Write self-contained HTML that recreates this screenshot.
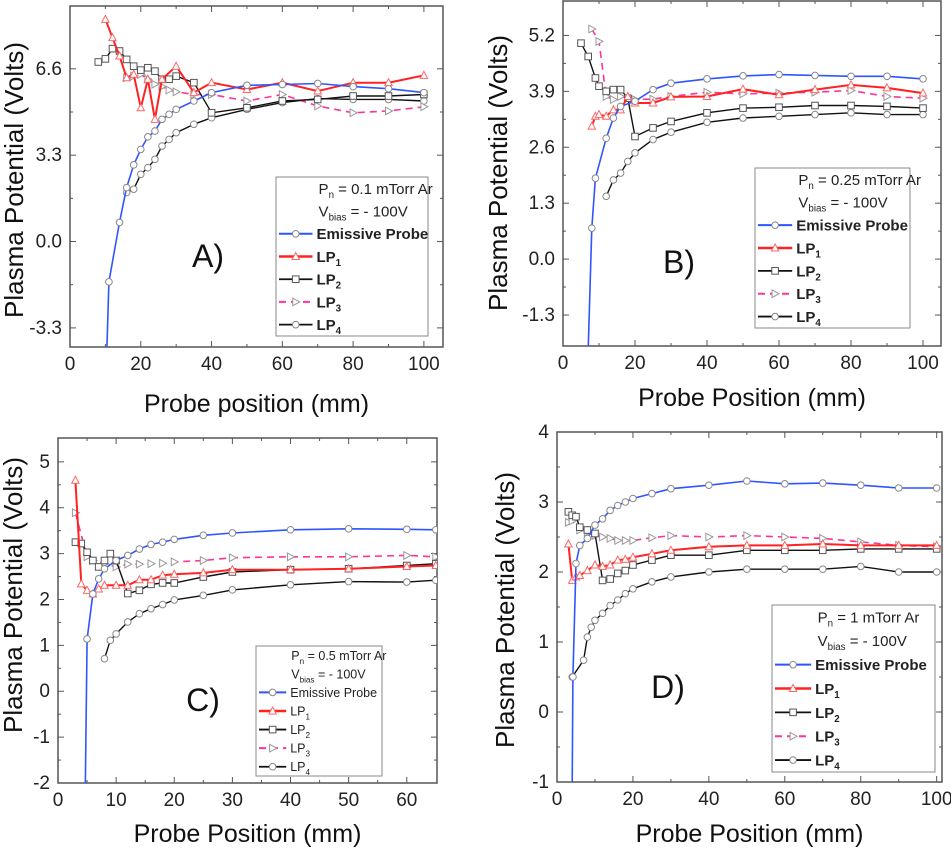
<!DOCTYPE html>
<html><head><meta charset="utf-8">
<style>
html,body{margin:0;padding:0;background:#fff;}
svg{display:block;font-family:"Liberation Sans",sans-serif;}
</style></head>
<body>
<svg id="fig" width="951" height="848" viewBox="0 0 951 848" xmlns="http://www.w3.org/2000/svg"></svg>
<script>
// ---- Panel A data (0.1 mTorr) ----
const aEmX=[10.4,11,14,16,18,20,22,24,26,28,30,35,40,50,60,70,80,90,100];
const aEmY=[-4.2,-1.54,0.73,2.06,2.93,3.52,4.0,4.22,4.67,4.86,5.05,5.37,5.69,5.97,6.0,6.04,5.92,5.84,5.69];
const aL1X=[10,12,14,16,18,20,22,24,26,30,35,40,50,60,70,80,90,100];
const aL1Y=[8.49,7.79,7.09,6.26,6.39,5.11,6.2,4.67,6.2,6.7,5.69,6.07,5.81,6.07,5.75,6.07,6.07,6.35];
const aL2X=[8,10,12,14,16,18,20,22,24,26,28,30,35,40,50,60,70,80,90,100];
const aL2Y=[6.86,6.98,7.37,7.28,6.96,6.7,6.55,6.64,6.51,6.2,6.2,6.32,6.07,4.92,5.11,5.37,5.43,5.56,5.56,5.62];
const aL3X=[16,18,20,22,24,26,28,30,35,40,50,60,70,80,90,100];
const aL3Y=[6.26,6.32,6.39,6.2,6.01,5.92,5.79,5.72,5.62,5.62,5.37,5.62,5.18,4.92,4.99,5.15];
const aL4X=[16,18,20,22,24,26,28,30,35,40,50,60,70,80,90,100];
const aL4Y=[1.87,2.0,2.57,2.82,3.14,3.65,3.9,4.16,4.48,4.73,5.05,5.31,5.46,5.43,5.43,5.37];
const aYTicks=[-3.3,0.0,3.3,6.6];
const aYTickLabels=["-3.3","0.0","3.3","6.6"];
const aXTicks=[0,20,40,60,80,100];
// ---- Panel B data (0.25 mTorr) ----
const bEmX=[7.0,8,9,12,14,16,20,25,30,40,50,60,70,80,90,100];
const bEmY=[-2.1,0.72,1.88,2.81,3.28,3.55,3.67,3.94,4.09,4.19,4.26,4.29,4.27,4.25,4.25,4.19];
const bL1X=[8,9,10,12,14,16,18,20,25,30,40,50,60,70,80,90,100];
const bL1Y=[3.09,3.32,3.36,3.32,3.47,3.47,3.78,3.63,3.63,3.77,3.78,3.95,3.82,3.94,4.05,3.98,3.86];
const bL2X=[5,7,9,10,12,14,16,18,20,25,30,40,50,60,70,80,90,100];
const bL2Y=[5.02,4.71,4.21,4.02,3.9,3.94,3.94,3.74,2.85,3.05,3.2,3.4,3.51,3.53,3.57,3.57,3.55,3.51];
const bL3X=[8,10,12,14,16,20,25,30,40,50,60,70,80,90,100];
const bL3Y=[5.35,5.06,3.78,3.71,3.78,3.71,3.72,3.78,3.88,3.84,3.86,3.88,3.92,3.78,3.74];
const bL4X=[12,14,16,18,20,25,30,40,50,60,70,80,90,100];
const bL4Y=[1.46,1.84,2.0,2.27,2.47,2.78,2.95,3.18,3.28,3.32,3.36,3.4,3.36,3.36];
const bYTicks=[-1.3,0.0,1.3,2.6,3.9,5.2];
const bYTickLabels=["-1.3","0.0","1.3","2.6","3.9","5.2"];
const bXTicks=[0,20,40,60,80,100];
// ---- Panel C data (0.5 mTorr) ----
const cEmX=[4.7,5,6,7,8,10,12,14,16,18,20,25,30,40,50,60,65];
const cEmY=[-2.1,1.14,2.12,2.45,2.67,2.85,2.96,3.1,3.2,3.25,3.31,3.4,3.45,3.52,3.54,3.53,3.52];
const cL1X=[3,4,5,6,7,8,10,12,14,16,18,20,25,30,40,50,60,65];
const cL1Y=[4.6,2.34,2.2,2.12,2.23,2.31,2.31,2.31,2.43,2.43,2.53,2.55,2.58,2.65,2.65,2.67,2.72,2.74];
const cL2X=[3,4,5,6,7,8,9,10,12,14,16,18,20,25,30,40,50,60,65];
const cL2Y=[3.25,3.22,3.03,2.85,2.71,2.85,3.0,2.85,2.13,2.2,2.33,2.36,2.36,2.49,2.6,2.65,2.67,2.74,2.78];
const cL3X=[3,5,6,8,10,12,14,16,18,20,25,30,40,50,60,65];
const cL3Y=[3.89,2.93,2.85,2.78,2.71,2.77,2.77,2.78,2.79,2.82,2.85,2.91,2.93,2.93,2.96,2.93];
const cL4X=[8,9,10,12,14,16,18,20,25,30,40,50,60,65];
const cL4Y=[0.71,1.11,1.25,1.51,1.69,1.8,1.89,1.99,2.09,2.21,2.32,2.39,2.38,2.42];
const cYTicks=[-2,-1,0,1,2,3,4,5];
const cYTickLabels=["-2","-1","0","1","2","3","4","5"];
const cXTicks=[0,10,20,30,40,50,60];
// ---- Panel D data (1 mTorr) ----
const dEmX=[4,4.2,5,6,8,10,12,14,16,18,20,25,30,40,50,60,70,80,90,100];
const dEmY=[-1.05,0.5,2.12,2.38,2.48,2.67,2.76,2.88,2.95,3.0,3.05,3.12,3.19,3.24,3.3,3.26,3.27,3.24,3.2,3.2];
const dL1X=[3,4,5,6,8,10,12,14,16,18,20,25,30,40,50,60,70,80,90,100];
const dL1Y=[2.4,1.88,1.93,1.95,2.02,2.1,2.08,2.1,2.17,2.18,2.21,2.26,2.31,2.36,2.38,2.38,2.4,2.38,2.38,2.38];
const dL2X=[3,4,5,6,8,10,12,14,16,18,20,25,30,40,50,60,70,80,90,100];
const dL2Y=[2.86,2.81,2.79,2.64,2.6,2.55,1.88,1.9,1.98,2.02,2.1,2.17,2.24,2.24,2.31,2.31,2.31,2.33,2.33,2.33];
const dL3X=[3,4,6,8,10,12,14,16,18,20,25,30,40,50,60,70,80,90,100];
const dL3Y=[2.71,2.73,2.6,2.57,2.52,2.5,2.48,2.45,2.45,2.45,2.49,2.52,2.5,2.52,2.5,2.48,2.43,2.38,2.36];
const dL4X=[4,7,8,9,10,12,14,16,18,20,25,30,40,50,60,70,80,90,100];
const dL4Y=[0.5,0.74,1.07,1.21,1.31,1.41,1.52,1.6,1.69,1.76,1.86,1.93,2.0,2.04,2.04,2.04,2.08,2.0,2.0];
const dYTicks=[-1,0,1,2,3,4];
const dYTickLabels=["-1","0","1","2","3","4"];
const dXTicks=[0,20,40,60,80,100];

const NS="http://www.w3.org/2000/svg";
const svg=document.getElementById('fig');
function mk(tag,attrs,parent){const e=document.createElementNS(NS,tag);for(const k in attrs)e.setAttribute(k,attrs[k]);(parent||svg).appendChild(e);return e;}

const STY={
 em:{c:'#2f55ff',w:1.6,dash:'',m:'circle'},
 l1:{c:'#ff2222',w:2,dash:'',m:'tri'},
 l2:{c:'#111',w:1.4,dash:'',m:'square'},
 l3:{c:'#ff3399',w:1.6,dash:'7,5',m:'tright'},
 l4:{c:'#111',w:1.4,dash:'',m:'circle'}
};
function marker(g,m,x,y){
  let e;
  if(m==='circle'){e=mk('circle',{cx:x,cy:y,r:3.3,fill:'#fff',stroke:'#888','stroke-width':1},g);}
  else if(m==='square'){e=mk('rect',{x:x-3.3,y:y-3.3,width:6.6,height:6.6,fill:'#fff',stroke:'#555','stroke-width':1},g);}
  else if(m==='tri'){e=mk('polygon',{points:`${x},${y-4} ${x-3.7},${y+3} ${x+3.7},${y+3}`,fill:'#fff',stroke:'#ff6666','stroke-width':1},g);}
  else {e=mk('polygon',{points:`${x-3},${y-3.8} ${x+4},${y} ${x-3},${y+3.8}`,fill:'#fff',stroke:'#999','stroke-width':1},g);}
  return e;
}

function panel(p){
  const g=mk('g',{});
  
  
  const sx=v=>p.L+(v-p.x0)/(p.x1-p.x0)*(p.R-p.L);
  const sy=v=>p.B-(v-p.y0)/(p.y1-p.y0)*(p.B-p.T);
  const cid='clip'+p.id;
  const cp=mk('clipPath',{id:cid},g);mk('rect',{x:p.L,y:p.T,width:p.R-p.L,height:p.B-p.T},cp);
  const frame=mk('rect',{x:p.L,y:p.T,width:p.R-p.L,height:p.B-p.T,fill:'none',stroke:'#555','stroke-width':1.5},g);
  
  
  p.yt.forEach((v,i)=>{
    const y=sy(v);
    mk('line',{x1:p.L,x2:p.L+6,y1:y,y2:y,stroke:'#555','stroke-width':1},g);
    mk('line',{x1:p.R,x2:p.R-6,y1:y,y2:y,stroke:'#555','stroke-width':1},g);
    const t=mk('text',{x:p.L-8,y:y+6,'text-anchor':'end','font-size':p.tf,fill:'#222'},g);
    t.textContent=p.ytl[i];
    
    
    if(i<p.yt.length-1){const ym=sy((v+p.yt[i+1])/2);
      mk('line',{x1:p.L,x2:p.L+3,y1:ym,y2:ym,stroke:'#555'},g);mk('line',{x1:p.R,x2:p.R-3,y1:ym,y2:ym,stroke:'#555'},g);}
  });
  p.xt.forEach((v,i)=>{
    const x=sx(v);
    mk('line',{x1:x,x2:x,y1:p.B,y2:p.B-6,stroke:'#555'},g);
    mk('line',{x1:x,x2:x,y1:p.T,y2:p.T+6,stroke:'#555'},g);
    const t=mk('text',{x:x,y:p.xly,'text-anchor':'middle','font-size':p.tf,fill:'#222'},g);
    t.textContent=String(v);
    
    
    if(i<p.xt.length-1){const xm=sx((v+p.xt[i+1])/2);
      mk('line',{x1:xm,x2:xm,y1:p.B,y2:p.B-3,stroke:'#555'},g);mk('line',{x1:xm,x2:xm,y1:p.T,y2:p.T+3,stroke:'#555'},g);}
  });
  const xt=mk('text',{x:(p.L+p.R)/2,y:p.xty,'text-anchor':'middle','font-size':25,fill:'#111'},g);
  xt.textContent=p.xtitle;
  
  
  const yt=mk('text',{x:0,y:0,'text-anchor':'middle','font-size':26,fill:'#111',transform:`translate(${p.ytx},${p.yty}) rotate(-90)`},g);
  yt.textContent='Plasma Potential (Volts)';
  
  
  const lab=mk('text',{x:p.labx,y:p.laby,'text-anchor':'middle','font-size':32,fill:'#111'},g);
  lab.textContent=p.id.toUpperCase()+')';
  
  
  const order=['l4','l3','l2','l1','em'];
  const pg=mk('g',{'clip-path':`url(#${cid})`},g);
  order.forEach(k=>{
    const s=p.series[k],st=STY[k];
    const sg=mk('g',{},pg);
    
    
    const pts=s.x.map((xv,i)=>sx(xv).toFixed(1)+','+sy(s.y[i]).toFixed(1)).join(' ');
    const pl=mk('polyline',{points:pts,fill:'none',stroke:st.c,'stroke-width':st.w,'stroke-dasharray':st.dash},sg);
    
    
    s.x.forEach((xv,i)=>{
      if(k==='em'&&i===0)return;
      const m=marker(sg,st.m,sx(xv),sy(s.y[i]));
      
      
    });
  });
  const lg=mk('g',{},g);
  
  
  const lb=p.leg;
  mk('rect',{x:lb.x,y:lb.y,width:lb.w,height:lb.h,fill:'#fff',stroke:'#888','stroke-width':1},lg);
  const sp=lb.h/7, fs=lb.fs;
  const rows=[null,null,['em','Emissive Probe'],['l1','LP','1'],['l2','LP','2'],['l3','LP','3'],['l4','LP','4']];
  const t1=mk('text',{x:lb.x+lb.w*0.28,y:lb.y+sp*0.5+fs*0.36,'font-size':fs,fill:'#222'},lg);
  t1.innerHTML=`P<tspan font-size="${fs*0.65}" dy="4">n</tspan><tspan dy="-4"> = ${p.pn}</tspan>`;
  
  
  const t2=mk('text',{x:lb.x+lb.w*0.28,y:lb.y+sp*1.5+fs*0.36,'font-size':fs,fill:'#222'},lg);
  t2.innerHTML=`V<tspan font-size="${fs*0.65}" dy="4">bias</tspan><tspan dy="-4"> = - 100V</tspan>`;
  
  
  for(let r=2;r<7;r++){
    const [k,txt,sub]=rows[r],st=STY[k];
    const cy=lb.y+sp*(r+0.5);
    const x1=lb.x+3,x2=lb.x+lb.w*0.24;
    mk('line',{x1:x1,x2:x2,y1:cy,y2:cy,stroke:st.c,'stroke-width':st.w+0.4,'stroke-dasharray':st.dash},lg);
    marker(lg,st.m,(x1+x2)/2,cy);
    const t=mk('text',{x:x2+4,y:cy+fs*0.36,'font-size':fs,fill:'#222','font-weight':p.lw},lg);
    if(sub){t.innerHTML=`${txt}<tspan font-size="${fs*0.65}" dy="4">${sub}</tspan>`;}else t.textContent=txt;
    
    
  }
}

panel({id:'a',L:70,R:443,T:6,B:347,x0:0,x1:105.4,y0:-4.03,y1:9.0,yt:aYTicks,ytl:aYTickLabels,xt:aXTicks,tf:19,xly:370,xty:412,
  xtitle:'Probe position (mm)',ytx:23,yty:180,labx:208,laby:267,pn:'0.1 mTorr Ar',lw:'600',
  leg:{x:276,y:177,w:152,h:159,fs:15},
  series:{em:{x:aEmX,y:aEmY},l1:{x:aL1X,y:aL1Y},l2:{x:aL2X,y:aL2Y},l3:{x:aL3X,y:aL3Y},l4:{x:aL4X,y:aL4Y}}});
panel({id:'b',L:563,R:941,T:1,B:346,x0:0,x1:105,y0:-2.02,y1:6.0,yt:bYTicks,ytl:bYTickLabels,xt:bXTicks,tf:19,xly:369,xty:406,
  xtitle:'Probe Position (mm)',ytx:507,yty:173,labx:679,laby:273,pn:'0.25 mTorr Ar',lw:'600',
  leg:{x:755,y:168,w:155,h:160,fs:15},
  series:{em:{x:bEmX,y:bEmY},l1:{x:bL1X,y:bL1Y},l2:{x:bL2X,y:bL2Y},l3:{x:bL3X,y:bL3Y},l4:{x:bL4X,y:bL4Y}}});
panel({id:'c',L:58,R:437,T:438,B:783,x0:0,x1:65.2,y0:-2,y1:5.52,yt:cYTicks,ytl:cYTickLabels,xt:cXTicks,tf:19,xly:806,xty:842,
  xtitle:'Probe Position (mm)',ytx:22,yty:595,labx:203,laby:711,pn:'0.5 mTorr Ar',lw:'normal',
  leg:{x:256,y:646,w:126,h:130,fs:12.5},
  series:{em:{x:cEmX,y:cEmY},l1:{x:cL1X,y:cL1Y},l2:{x:cL2X,y:cL2Y},l3:{x:cL3X,y:cL3Y},l4:{x:cL4X,y:cL4Y}}});
panel({id:'d',L:557,R:942,T:432,B:782,x0:0,x1:101.4,y0:-1,y1:4,yt:dYTicks,ytl:dYTickLabels,xt:dXTicks,tf:19,xly:805,xty:842,
  xtitle:'Probe Position (mm)',ytx:514,yty:610,labx:668,laby:698,pn:'1 mTorr Ar',lw:'600',
  leg:{x:772,y:605,w:163,h:167,fs:15},
  series:{em:{x:dEmX,y:dEmY},l1:{x:dL1X,y:dL1Y},l2:{x:dL2X,y:dL2Y},l3:{x:dL3X,y:dL3Y},l4:{x:dL4X,y:dL4Y}}});
</script>
</body></html>
